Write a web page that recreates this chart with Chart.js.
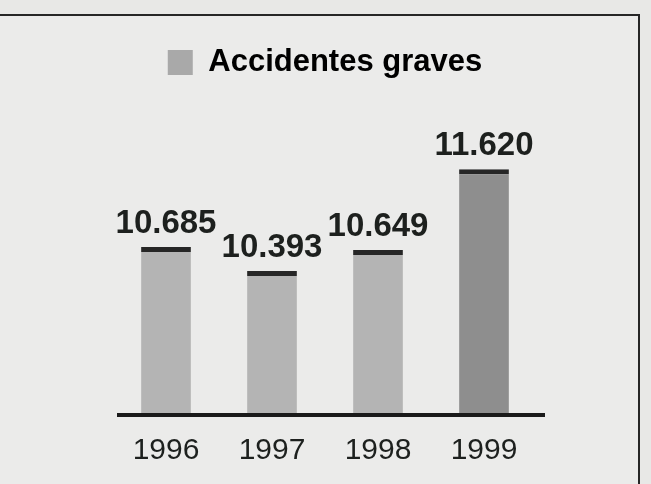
<!DOCTYPE html>
<html>
<head>
<meta charset="utf-8">
<script src="https://cdn.jsdelivr.net/npm/chart.js@4/dist/chart.umd.min.js"></script>
<style>
  html, body { margin: 0; padding: 0; background: #e8e8e6; }
  #wrap { position: relative; width: 651px; height: 484px; overflow: hidden; }
  #frame {
    position: absolute; left: -10px; top: 14px; width: 650px; height: 500px;
    box-sizing: border-box; background: #ebebea;
    border-top: 2px solid #262626; border-right: 2px solid #262626;
  }
  #chart { position: absolute; left: 0; top: 0; }
</style>
</head>
<body>
<div id="wrap">
  <div id="frame"></div>
  <canvas id="chart" width="651" height="484"></canvas>
</div>
<script>
const years = ["1996", "1997", "1998", "1999"];
const accidents = [10685, 10393, 10649, 11620];
const seriesLabel = "Accidentes graves";
const barColors = ["#b4b4b4", "#b4b4b4", "#b4b4b4", "#8e8e8e"];

const FONT = "'Liberation Sans', Arial, Helvetica, sans-serif";
const INK = "#1d201e";

function fmt(v) {
  return String(v).replace(/\B(?=(\d{3})+(?!\d))/g, ".");
}

// value labels above each bar + thick baseline
const decorations = {
  id: "decorations",
  afterDatasetsDraw(chart) {
    const ctx = chart.ctx;
    const area = chart.chartArea;
    ctx.save();
    ctx.fillStyle = "#1a1a1a";
    ctx.fillRect(area.left + 4, area.bottom, area.right - area.left + 4, 4);

    ctx.fillStyle = INK;
    ctx.font = "bold 33px " + FONT;
    ctx.textAlign = "center";
    ctx.textBaseline = "alphabetic";
    chart.getDatasetMeta(0).data.forEach((bar, i) => {
      ctx.fillText(fmt(accidents[i]), bar.x, bar.y - 14);
    });
    ctx.restore();
  }
};

new Chart(document.getElementById("chart"), {
  type: "bar",
  data: {
    labels: years,
    datasets: [{
      label: seriesLabel,
      data: accidents,
      backgroundColor: barColors,
      borderColor: "#262626",
      borderWidth: { top: 5, left: 0, right: 0, bottom: 0 },
      borderSkipped: "bottom",
      categoryPercentage: 1,
      barPercentage: 0.47
    }]
  },
  options: {
    responsive: false,
    animation: false,
    layout: { padding: { left: 113, right: 114, top: 37, bottom: -5 } },
    plugins: {
      tooltip: { enabled: false },
      legend: {
        position: "top",
        labels: {
          boxWidth: 25,
          boxHeight: 25,
          color: INK,
          font: { family: FONT, size: 31, weight: "bold" },
          generateLabels: () => [{
            text: seriesLabel,
            fillStyle: "#a9a9a9",
            strokeStyle: "#a9a9a9",
            lineWidth: 0,
            datasetIndex: 0
          }]
        }
      }
    },
    scales: {
      x: {
        grid: { display: false, drawTicks: false },
        border: { display: false },
        ticks: { color: INK, padding: 20, font: { family: FONT, size: 30 } }
      },
      y: {
        display: false,
        min: 8683,
        max: 12600
      }
    }
  },
  plugins: [decorations]
});
</script>
</body>
</html>
